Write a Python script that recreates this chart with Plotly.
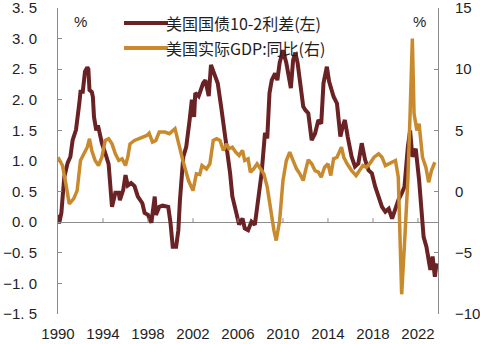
import plotly.graph_objects as go

# ---- data ----
spread_x = [1990.0, 1990.1, 1990.3, 1990.56, 1990.86, 1991.1, 1991.3, 1991.6, 1991.9, 1992.0,
            1992.2, 1992.4, 1992.6, 1992.7, 1992.8, 1993.0, 1993.1, 1993.2, 1993.4, 1993.55,
            1993.7, 1993.9, 1994.2, 1994.5, 1994.8, 1995.1, 1995.4, 1995.5, 1995.8, 1996.0,
            1996.2, 1996.5, 1996.8, 1997.1, 1997.5, 1997.7, 1998.0, 1998.3, 1998.6, 1998.7,
            1999.0, 1999.3, 1999.8, 2000.0, 2000.2, 2000.5, 2000.7, 2000.84, 2001.14, 2001.4,
            2001.7, 2001.9, 2002.1, 2002.2, 2002.5, 2002.7, 2002.9, 2003.1, 2003.4, 2003.6,
            2003.9, 2004.2, 2004.5, 2004.8, 2005.1, 2005.3, 2005.5, 2005.8, 2006.1, 2006.4,
            2006.6, 2006.9, 2007.2, 2007.5, 2007.8, 2008.1, 2008.4, 2008.6, 2008.8, 2009.0,
            2009.3, 2009.5, 2009.7, 2010.0, 2010.3, 2010.5, 2010.7, 2010.9, 2011.1, 2011.3,
            2011.5, 2011.8, 2012.0, 2012.25, 2012.55, 2012.85, 2013.15, 2013.4, 2013.6, 2013.9,
            2014.1, 2014.5, 2014.8, 2015.1, 2015.3, 2015.5, 2015.75, 2016.1, 2016.4, 2016.7,
            2017.0, 2017.3, 2017.6, 2017.9, 2018.2, 2018.5, 2018.8, 2019.1, 2019.4, 2019.7,
            2019.95, 2020.25, 2020.55, 2020.8, 2021.1, 2021.3, 2021.5, 2021.8, 2022.1, 2022.3,
            2022.5, 2022.75, 2022.95, 2023.1, 2023.3, 2023.5, 2023.65]
spread_y = [0.12, -0.02, 0.15, 0.74, 0.97, 1.07, 1.34, 1.51, 1.95, 2.13,
            2.13, 2.46, 2.53, 2.50, 2.16, 2.13, 2.05, 1.72, 1.50, 1.58,
            1.46, 1.29, 1.13, 0.95, 0.25, 0.48, 0.48, 0.36, 0.53, 0.77,
            0.60, 0.64, 0.59, 0.42, 0.31, 0.15, 0.12, -0.01, 0.42, 0.12,
            0.25, 0.27, 0.25, -0.01, -0.40, -0.40, -0.13, 0.36, 1.07, 1.23,
            1.67, 2.00, 1.72, 2.11, 2.06, 2.16, 2.27, 2.32, 2.06, 2.57,
            2.41, 2.27, 1.89, 1.50, 1.13, 0.80, 0.42, 0.20, -0.04, 0.06,
            -0.10, -0.13, 0.01, -0.04, 0.36, 0.80, 1.46, 1.37, 2.11, 2.32,
            2.43, 2.32, 2.60, 2.81, 2.60, 2.43, 2.19, 2.65, 2.77, 2.60,
            2.32, 1.89, 1.83, 1.78, 1.34, 1.45, 1.67, 1.61, 2.27, 2.54,
            2.30, 2.05, 1.94, 1.40, 1.56, 1.67, 1.40, 1.07, 0.91, 0.96,
            1.29, 1.02, 0.85, 0.80, 0.58, 0.39, 0.25, 0.17, 0.22, 0.06,
            0.20, 0.36, 0.47, 0.58, 1.23, 1.50, 1.07, 1.20, 0.69, 0.25,
            -0.24, -0.40, -0.67, -0.78, -0.56, -0.89, -0.67]

gdp_x = [1990.0, 1990.4, 1990.7, 1991.0, 1991.4, 1991.7, 1992.0, 1992.3, 1992.6, 1992.8,
         1993.0, 1993.3, 1993.6, 1993.9, 1994.2, 1994.5, 1994.8, 1995.1, 1995.4, 1995.7,
         1996.0, 1996.2, 1996.4, 1996.8, 1997.2, 1997.6, 1997.9, 1998.1, 1998.4, 1998.7,
         1999.0, 1999.5, 1999.9, 2000.4, 2000.6, 2000.8, 2001.1, 2001.6, 2002.0, 2002.3,
         2002.6, 2002.8, 2003.2, 2003.5, 2003.8, 2004.1, 2004.4, 2004.7, 2005.0, 2005.2,
         2005.5, 2005.8, 2006.1, 2006.4, 2006.6, 2006.9, 2007.1, 2007.4, 2007.7, 2008.0,
         2008.3, 2008.6, 2008.9, 2009.2, 2009.4, 2009.7, 2010.0, 2010.3, 2010.6, 2010.9,
         2011.2, 2011.5, 2011.8, 2012.0, 2012.25, 2012.55, 2012.85, 2013.15, 2013.4, 2013.7,
         2014.0, 2014.25, 2014.5, 2014.8, 2015.2, 2015.4, 2015.7, 2016.1, 2016.5, 2016.8,
         2017.1, 2017.4, 2017.7, 2018.1, 2018.5, 2018.8, 2019.1, 2019.4, 2019.8, 2020.0,
         2020.25, 2020.55, 2020.8, 2021.1, 2021.3, 2021.5, 2021.65, 2021.9, 2022.1, 2022.4,
         2022.7, 2022.95, 2023.2, 2023.5]
gdp_y = [2.8, 2.13, 0.63, -1.0, -0.57, 0.08, 2.54, 3.09, 3.63, 4.32,
         3.36, 2.54, 2.13, 2.81, 4.18, 4.32, 3.9, 3.09, 2.54, 2.68,
         2.13, 2.81, 3.9, 4.18, 4.32, 4.45, 4.59, 4.78, 4.04, 4.18,
         4.86, 4.86, 4.73, 5.14, 4.32, 3.7, 2.54, 0.9, 0.08, 1.45,
         1.4, 2.13, 1.85, 2.27, 4.18, 4.32, 4.18, 3.36, 3.9, 3.5,
         3.63, 3.22, 2.95, 3.36, 2.54, 2.68, 1.59, 1.86, 2.27, 1.86,
         1.45, 0.36, -1.56, -3.2, -4.0, -2.38, 0.9, 2.54, 3.22, 2.54,
         1.86, 1.45, 0.9, 1.72, 2.6, 2.27, 1.72, 1.59, 1.17, 1.99,
         2.27, 1.31, 2.68, 2.81, 3.63, 2.81, 2.27, 1.72, 1.31, 1.72,
         2.13, 1.99, 2.27, 2.81, 3.09, 2.81, 2.13, 2.27, 2.4, 2.54,
         1.17, -8.39, -4.3, 0.9, 6.37, 12.5, 6.37, 5.0, 5.54, 2.81,
         1.99, 0.76, 1.72, 2.4]

x_ticks = [1990, 1994, 1998, 2002, 2006, 2010, 2014, 2018, 2022]
left_ticks = [3.5, 3.0, 2.5, 2.0, 1.5, 1.0, 0.5, 0.0, -0.5, -1.0, -1.5]
NB = "\u00a0"
left_ticktext = ["3." + NB + "5", "3." + NB + "0", "2." + NB + "5", "2." + NB + "0",
                 "1." + NB + "5", "1." + NB + "0", "0." + NB + "5", "0." + NB + "0",
                 "\u22120." + NB + "5", "\u22121." + NB + "0", "\u22121." + NB + "5"]
right_ticks = [15, 10, 5, 0, -5, -10]
right_ticktext = ["15", "10", "5", "0", "\u22125", "\u221210"]

name_spread = "美国国债10-2利差(左)"
name_gdp = "美国实际GDP:同比(右)"

BROWN = "#6B2224"
ORANGE = "#C98A2E"
AXIS = "#8C8C8C"
TXT = "#1E1E1E"
FONT = "Liberation Sans, Arial, sans-serif"
CJK = "Noto Sans CJK SC, sans-serif"

fig = go.Figure()
fig.add_trace(go.Scatter(x=spread_x, y=spread_y, mode="lines", name=name_spread,
                         line=dict(color=BROWN, width=4), yaxis="y"))
fig.add_trace(go.Scatter(x=gdp_x, y=gdp_y, mode="lines", name=name_gdp,
                         line=dict(color=ORANGE, width=3.5), yaxis="y2"))

# x ticks drawn upward from the zero line
shapes = []
for t in x_ticks[1:]:
    shapes.append(dict(type="line", xref="x", yref="y", x0=t, x1=t, y0=0, y1=4,
                       ysizemode="pixel", yanchor=0, line=dict(color=AXIS, width=1)))

# manual legend
legend_rows = [(name_spread, BROWN, 0.951), (name_gdp, ORANGE, 0.869)]
annotations = []
for name, col, yy in legend_rows:
    shapes.append(dict(type="line", xref="paper", yref="paper", x0=0.1737, x1=0.2895,
                       y0=yy, y1=yy, line=dict(color=col, width=4)))
    annotations.append(dict(text=name, xref="paper", yref="paper", x=0.279, y=yy,
                            xanchor="left", yanchor="middle", showarrow=False,
                            font=dict(family=CJK, size=16, color=TXT)))

annotations.append(dict(text="%", xref="paper", yref="paper", x=0.059, y=0.956,
                        showarrow=False, xanchor="center", yanchor="middle",
                        font=dict(family=FONT, size=15, color=TXT)))
annotations.append(dict(text="%", xref="paper", yref="paper", x=0.951, y=0.956,
                        showarrow=False, xanchor="center", yanchor="middle",
                        font=dict(family=FONT, size=15, color=TXT)))

fig.update_layout(
    width=480, height=344, autosize=False,
    margin=dict(l=58, r=42, t=8, b=30),
    paper_bgcolor="white", plot_bgcolor="white",
    showlegend=False,
    shapes=shapes, annotations=annotations,
    xaxis=dict(range=[1990, 2023.78], tickvals=x_ticks, ticks="", showline=False,
               showgrid=False, zeroline=False, ticklabelstandoff=9, automargin=False,
               ticklabeloverflow="allow",
               tickfont=dict(family=FONT, size=15, color=TXT)),
    yaxis=dict(range=[-1.5, 3.5], tickvals=left_ticks, ticktext=left_ticktext,
               ticks="inside", ticklen=4, tickcolor=AXIS, showline=True, linecolor=AXIS,
               linewidth=1, showgrid=False, zeroline=True, zerolinecolor=AXIS,
               zerolinewidth=1, ticklabelstandoff=17, automargin=False,
               ticklabeloverflow="allow",
               tickfont=dict(family=FONT, size=15, color=TXT)),
    yaxis2=dict(range=[-10, 15], tickvals=right_ticks, ticktext=right_ticktext,
                overlaying="y", side="right", ticks="inside", ticklen=4, tickcolor=AXIS,
                showline=True, linecolor=AXIS, linewidth=1, showgrid=False, zeroline=False,
                ticklabelstandoff=13, automargin=False, ticklabeloverflow="allow",
                tickfont=dict(family=FONT, size=15, color=TXT)),
)

fig.write_html("out.html")
